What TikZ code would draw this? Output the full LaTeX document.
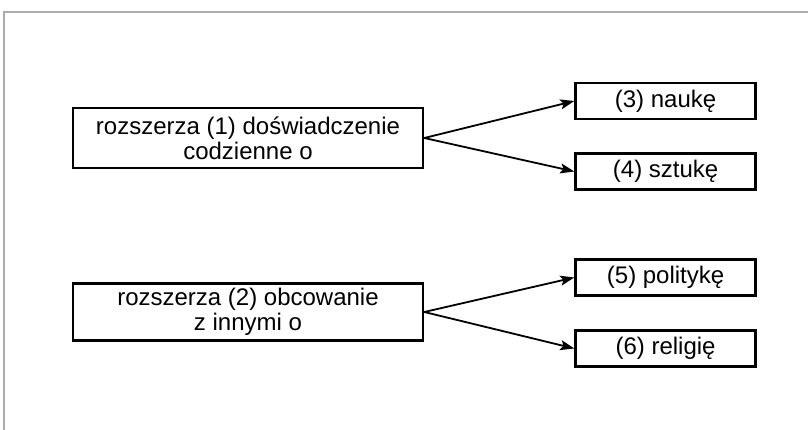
\documentclass[tikz,border=0pt]{standalone}
\usepackage{fontspec}
\setmainfont{Liberation Sans}
\usepackage{tikz}
\usetikzlibrary{positioning,arrows.meta}

\begin{document}
\begin{tikzpicture}[x=1pt, y=-1pt,
  srcbox/.style={draw, line width=2.6pt, align=center, font=\fontsize{24}{25}\selectfont, minimum width=350pt, minimum height=57pt, inner sep=0pt, fill=white},
  tgtbox/.style={draw, line width=2.6pt, align=center, font=\fontsize{24}{25}\selectfont, minimum width=180pt, minimum height=36pt, inner sep=0pt, fill=white},
  arr/.style={-{Stealth[length=14pt,width=10pt,inset=3pt]}, line width=1.8pt},
  frame/.style={draw=gray!65, line width=1.2pt}]
\useasboundingbox (0,0) rectangle (808,430);
\draw[frame] (4,430) -- (4,12) -- (808,12);
\node[srcbox, minimum height=60pt] (exp) at (248,138) {rozszerza (1) doświadczenie\\codzienne o};
\node[srcbox] (soc) at (248,312) {rozszerza (2) obcowanie\\z innymi o};
\node[tgtbox, right=150pt of exp.east, yshift=37pt] (sci) {(3) naukę};
\node[tgtbox, right=150pt of exp.east, yshift=-33.5pt] (art) {(4) sztukę};
\node[tgtbox, right=150pt of soc.east, yshift=34.5pt] (pol) {(5) politykę};
\node[tgtbox, right=150pt of soc.east, yshift=-36.5pt] (rel) {(6) religię};
\foreach \s/\t in {exp/sci,exp/art,soc/pol,soc/rel}
  \draw[arr] (\s.east) -- (\t.west);
\end{tikzpicture}
\end{document}
